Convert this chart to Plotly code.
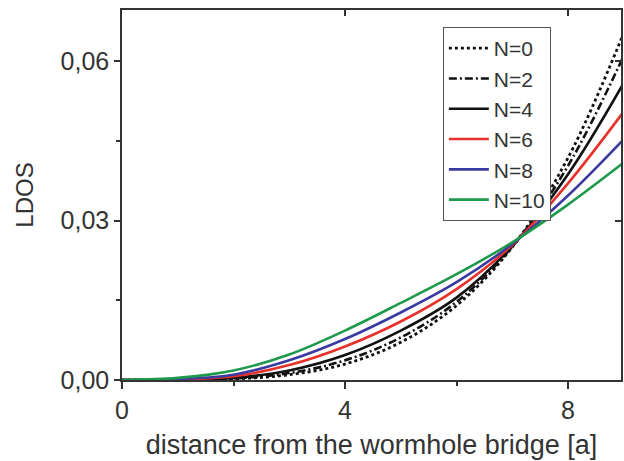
import plotly.graph_objects as go

# distance from wormhole bridge [a]
x_vals = [0, 1, 2, 3, 4, 5, 6, 7, 8, 9]

# LDOS values
ldos_n0 = [0.0, 0.00002, 0.0002, 0.0010, 0.0030, 0.0071, 0.0140, 0.0250, 0.0418, 0.0653]
ldos_n2 = [0.0, 0.00003, 0.0003, 0.0013, 0.0037, 0.0080, 0.0147, 0.0251, 0.0403, 0.0610]
ldos_n4 = [0.0, 0.00005, 0.0004, 0.0018, 0.0047, 0.0093, 0.0155, 0.0252, 0.0387, 0.0559]
ldos_n6 = [0.0, 0.0001, 0.0007, 0.0028, 0.0063, 0.0110, 0.0171, 0.0254, 0.0370, 0.0505]
ldos_n8 = [0.0, 0.0002, 0.0010, 0.0037, 0.0077, 0.0127, 0.0184, 0.0256, 0.0347, 0.0453]
ldos_n10 = [0.0, 0.0004, 0.0018, 0.0048, 0.0093, 0.0145, 0.0199, 0.0259, 0.0330, 0.0409]

series_names = ["N=0", "N=2", "N=4", "N=6", "N=8", "N=10"]
series_values = [ldos_n0, ldos_n2, ldos_n4, ldos_n6, ldos_n8, ldos_n10]
series_colors = ["#111111", "#111111", "#111111", "#e8312b", "#3b3aa0", "#1f9a4c"]
series_dash = ["dot", "8px,3px,2px,3px", "solid", "solid", "solid", "solid"]
series_width = [2.8, 2.6, 2.6, 2.6, 2.6, 2.6]

x_ticks = [0, 4, 8]
y_ticks = [0.0, 0.03, 0.06]

FONT = "Liberation Sans, Arial, sans-serif"

fig = go.Figure()
for name, vals, col, dash, w in zip(series_names, series_values, series_colors, series_dash, series_width):
    fig.add_trace(go.Scatter(
        x=x_vals, y=vals, name=name, mode="lines",
        line=dict(color=col, dash=dash, width=w, shape="spline", smoothing=1.0),
        hoverinfo="skip",
    ))

# invisible trace to host the mirrored (inside-tick) axes
fig.add_trace(go.Scatter(x=[None], y=[None], xaxis="x2", yaxis="y2",
                         showlegend=False, hoverinfo="skip"))

x_range = [0, 8.95]
y_range = [0, 0.0696]
axis_col = "#333333"

fig.update_layout(
    width=624, height=461,
    margin=dict(l=122, r=3, t=10, b=81),
    paper_bgcolor="white", plot_bgcolor="white",
    separators=",.",
    font=dict(family=FONT, color="#333333"),
    showlegend=True,
    legend=dict(
        x=0.643, y=0.954, xanchor="left", yanchor="top",
        bordercolor="#555555", borderwidth=1, bgcolor="white",
        font=dict(size=21, family=FONT, color="#333333"),
        tracegroupgap=0, itemwidth=40,
    ),
    xaxis=dict(
        range=x_range, tickvals=x_ticks, ticktext=[str(v) for v in x_ticks],
        ticks="outside", ticklen=7, tickwidth=1.5, tickcolor=axis_col,
        minor=dict(dtick=2, ticks="outside", ticklen=4, tickwidth=1.5, tickcolor=axis_col),
        showline=True, linecolor=axis_col, linewidth=1.5,
        showgrid=False, zeroline=False,
        tickfont=dict(size=25, family=FONT, color="#333333"),
        title=dict(text="distance from the wormhole bridge [a]",
                   font=dict(size=27, family=FONT, color="#333333"), standoff=12),
    ),
    yaxis=dict(
        range=y_range, tickvals=y_ticks, tickformat=".2f",
        ticks="outside", ticklen=6, tickwidth=1.5, tickcolor=axis_col,
        minor=dict(dtick=0.015, ticks="outside", ticklen=4, tickwidth=1.5, tickcolor=axis_col),
        showline=True, linecolor=axis_col, linewidth=1.5,
        showgrid=False, zeroline=False,
        tickfont=dict(size=25, family=FONT, color="#333333"),
        title=dict(text="LDOS", font=dict(size=24, family=FONT, color="#333333"), standoff=20),
    ),
    xaxis2=dict(
        overlaying="x", side="top", range=x_range, tickvals=x_ticks,
        ticks="inside", ticklen=6, tickwidth=1.5, tickcolor=axis_col,
        showticklabels=False, showline=True, linecolor=axis_col, linewidth=1.5,
        showgrid=False, zeroline=False,
    ),
    yaxis2=dict(
        overlaying="y", side="right", range=y_range, tickvals=y_ticks,
        ticks="inside", ticklen=6, tickwidth=1.5, tickcolor=axis_col,
        showticklabels=False, showline=True, linecolor=axis_col, linewidth=1.5,
        showgrid=False, zeroline=False,
    ),
)

fig.write_html("out.html")
